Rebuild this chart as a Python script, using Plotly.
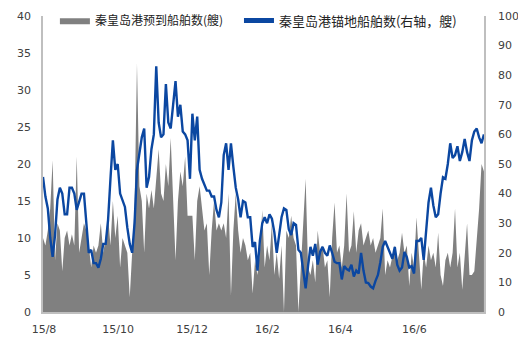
import pandas as pd
import plotly.graph_objects as go

# ---- data (~2-day sampling) ----
start_date = "2015-07-31 04:00"
end_date = "2016-07-28 07:00"

arrivals = [  # 秦皇岛港预到船舶数 (left axis, 艘)
    10, 9, 11, 14, 20.5, 7, 12, 11, 5.5, 10, 11, 9, 10.5, 9, 21, 8, 10, 12, 11, 9, 6, 9, 8,
    9, 12, 8, 10, 13, 9, 15, 10, 13, 6, 10, 9, 8,
    2, 9, 14, 33.6, 17, 15, 8, 16, 14, 16.5, 14, 18, 22, 16, 15, 20, 17, 23.5, 14, 7, 15, 19, 17, 21, 13,
    13, 13, 7, 15, 17, 14, 11, 12, 5, 11, 15, 11, 12, 11, 12, 10, 16, 2.2, 11, 16,
    11, 8, 10, 9, 7, 8, 2.5, 7, 5, 8, 13.8, 6, 9, 7, 12, 5, 8, 4.5, 9,
    0, 11, 10, 13, 10, 9, 0, 6, 12, 18, 6, 5, 7, 4, 11, 8, 9, 6, 7, 2,
    10, 14.8, 8, 9, 6, 9, 16, 8, 9, 13.6, 8, 11, 12, 9, 10, 11, 9, 10, 8, 9, 10,
    14, 5, 7, 6, 7.5, 9, 7, 8, 10.7, 8, 9, 3.5, 8, 6, 12.8, 7, 3, 8, 6, 9,
    7, 8, 6, 10.7, 5, 3.5, 7, 8, 6, 8, 14, 6, 8, 3, 7, 12, 5, 5, 5.5, 10, 14, 20, 19,
]

anchored = [  # 秦皇岛港锚地船舶数 (right axis, 艘)
    45.6, 39, 35, 25, 18.6, 26, 38, 42, 40, 33, 33, 42, 42, 40, 34.5, 37, 40, 40, 29, 20,
    21, 16.5, 16.5, 15, 18, 23, 23, 31,
    45, 58, 48, 50, 40, 37.5, 35.5, 28.5, 23, 20, 30, 48, 54, 59, 62, 42, 45.6, 55, 60, 83,
    64, 59, 60, 77, 64, 62, 70, 78, 66, 70, 61, 60, 58,
    45, 67, 58, 66, 48, 45, 43, 41, 41, 39, 39, 34.5, 32, 37, 53, 57, 48, 57, 49, 42,
    38, 32, 37.5, 37, 32, 32, 22, 23.6, 14, 24, 30, 32, 30, 33, 31.5, 27, 20, 25.4, 32,
    35, 34.5, 28, 26, 30, 29.4, 21, 20, 14, 8, 15.5, 22, 19, 23, 16, 20.3, 22, 20, 19, 22.5,
    20, 17, 16.5, 16.5, 11, 15.5, 14.5, 14, 16, 12, 14, 13, 20, 14, 10, 9.8, 8.6, 8, 10.5, 12.5, 16.8,
    22, 24, 22, 20.5, 18, 22, 16, 14, 15, 20.3, 18.5, 15, 15.5, 13, 24, 24, 25, 17.6, 27, 37,
    42, 36, 32, 33, 40, 45.5, 45, 50, 57, 52, 53, 56, 51, 54, 58.5, 54, 51, 58, 61, 62, 59, 57, 60,
]

tick_dates = ["2015-08-01", "2015-10-01", "2015-12-01", "2016-02-01", "2016-04-01", "2016-06-01"]
tick_labels = ["15/8", "15/10", "15/12", "16/2", "16/4", "16/6"]

name_arrivals = "秦皇岛港预到船舶数(艘)"
name_anchored = "秦皇岛港锚地船舶数(右轴，艘)"

dates = pd.date_range(start_date, end_date, periods=len(arrivals))

fig = go.Figure()
fig.add_trace(go.Scatter(
    x=dates, y=arrivals, name=name_arrivals, mode="lines",
    line=dict(width=0, color="#808080"), fill="tozeroy", fillcolor="#808080",
    yaxis="y", legend="legend",
))
fig.add_trace(go.Scatter(
    x=dates, y=anchored, name=name_anchored, mode="lines",
    line=dict(width=2.4, color="#0B47A1"),
    yaxis="y2", legend="legend2",
))

tickfont = dict(family="DejaVu Sans", size=11, color="#404040")
fig.update_layout(
    width=518, height=338,
    margin=dict(l=43, r=34, t=16, b=26, pad=0, autoexpand=False),
    paper_bgcolor="white", plot_bgcolor="white",
    showlegend=True,
    legend=dict(
        orientation="h", x=0.027, xanchor="left", y=1.035, yanchor="top",
        bgcolor="rgba(0,0,0,0)", itemsizing="constant",
        font=dict(family="Noto Sans CJK SC", size=12, color="#222222"),
    ),
    legend2=dict(
        orientation="h", x=0.4444, xanchor="left", y=1.035, yanchor="top",
        bgcolor="rgba(0,0,0,0)", itemsizing="constant",
        font=dict(family="Noto Sans CJK SC", size=13, color="#222222"),
    ),
    xaxis=dict(
        type="date", range=[start_date, "2016-07-28 08:00"],
        tickvals=tick_dates, ticktext=tick_labels, tickfont=tickfont,
        showgrid=False, zeroline=False, showline=True, linecolor="#BFBFBF", linewidth=1.5,
        ticks="", ticklabelstandoff=6, automargin=False,
    ),
    yaxis=dict(
        range=[0, 40], dtick=5, tickfont=tickfont,
        showgrid=False, zeroline=False, showline=True, linecolor="#BFBFBF", linewidth=1.5,
        ticks="", ticklabelstandoff=8, automargin=False,
    ),
    yaxis2=dict(
        range=[0, 100], dtick=10, tickfont=tickfont, overlaying="y", side="right",
        showgrid=False, zeroline=False, showline=True, linecolor="#BFBFBF", linewidth=1.5,
        ticks="", ticklabelstandoff=10, automargin=False,
    ),
)

fig.write_html("out.html")
